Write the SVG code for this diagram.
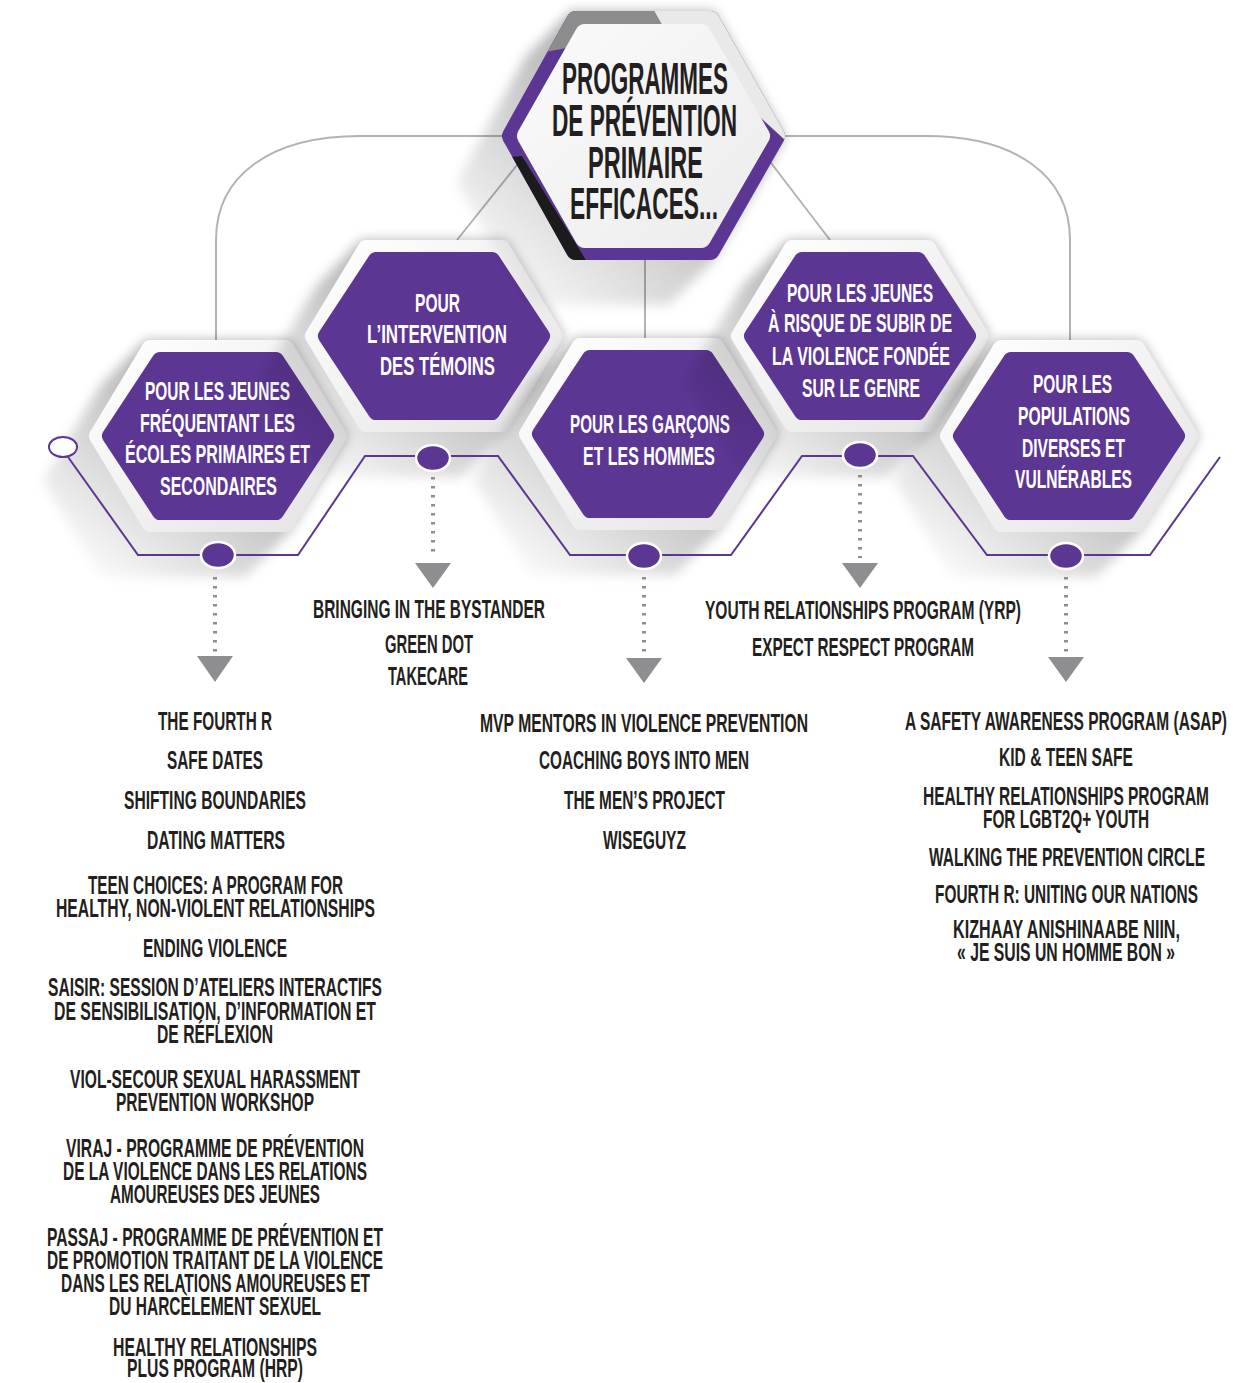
<svg xmlns="http://www.w3.org/2000/svg" width="1236" height="1383" viewBox="0 0 1236 1383">
<style>
.bg{fill:#ffffff}
.gline{fill:none;stroke:#b3b3b3;stroke-width:2}
.pline{fill:none;stroke:#5c3693;stroke-width:2;stroke-linejoin:miter}
.dot{fill:#5c3693;stroke:#ffffff;stroke-width:2.5}
.ring{fill:#ffffff;stroke:#5c3693;stroke-width:2}
.dash{fill:none;stroke:#8e8e90;stroke-width:4;stroke-dasharray:2.5 6.5}
.tri{fill:#8e8e90}
.frame{fill:url(#frameG);stroke:url(#frameG);stroke-width:16;stroke-linejoin:round}
.purp{fill:#5c3693;stroke:#5c3693;stroke-width:16;stroke-linejoin:round}
.shadow{fill:url(#shG);filter:url(#blur)}
text{font-family:"Liberation Sans",Arial,sans-serif;font-weight:bold;text-anchor:middle}
.ht{font-size:26.5px;fill:#ffffff}
.tt{font-size:44px;fill:#231f20}
.lt{font-size:25px;fill:#231f20}
</style>
<defs>
<linearGradient id="frameG" x1="0" y1="0" x2="1" y2="1">
<stop offset="0" stop-color="#ffffff"/>
<stop offset="1" stop-color="#e4e4e4"/>
</linearGradient>
<linearGradient id="innerG" x1="0" y1="0" x2="1" y2="1">
<stop offset="0" stop-color="#fafafa"/>
<stop offset="1" stop-color="#ececec"/>
</linearGradient>
<linearGradient id="shG" x1="1" y1="0" x2="0" y2="1">
<stop offset="0.35" stop-color="#000000" stop-opacity="0.30"/>
<stop offset="0.95" stop-color="#000000" stop-opacity="0"/>
</linearGradient>
<filter id="blur" x="-30%" y="-30%" width="160%" height="160%">
<feGaussianBlur stdDeviation="6"/>
</filter>
<polygon id="shadowP" points="-72,-96 72,-96 130,0 72,96 27,141 -117,141 -175,45 -117,-51"/>
<polygon id="frameP" points="-121,0 -68,-88 68,-88 121,0 68,88 -68,88"/>
<polygon id="purpP" points="-108,0 -58,-76 58,-76 108,0 58,76 -58,76"/>
<mask id="topMask" maskUnits="userSpaceOnUse" x="0" y="0" width="1236" height="400">
<polygon points="512,136 576,21 710,21 775,136 710,250 576,250" fill="#ffffff" stroke="#ffffff" stroke-width="20" stroke-linejoin="round"/>
</mask>
</defs>
<rect class="bg" x="0" y="0" width="1236" height="1383"/>

<g id="connectors-back">
<path class="gline" d="M216,342 V240 C216,176 270,136 360,136 H560"/>
<path class="gline" d="M1070,342 V240 C1070,176 1016,136 926,136 H730"/>
<line class="gline" x1="457" y1="240" x2="525" y2="155"/>
<line class="gline" x1="830" y1="240" x2="765" y2="155"/>
<line class="gline" x1="645" y1="250" x2="645" y2="342"/>
</g>

<g id="node-ecoles">
<use href="#shadowP" class="shadow" x="218" y="436"/>
<use href="#frameP" class="frame" x="218" y="436"/>
<use href="#purpP" class="purp" x="218" y="436"/>
<text class="ht" transform="translate(217.5,400) scale(0.59,1)" textLength="245.8" lengthAdjust="spacingAndGlyphs">POUR LES JEUNES</text>
<text class="ht" transform="translate(217.5,432) scale(0.59,1)" textLength="262.7" lengthAdjust="spacingAndGlyphs">FRÉQUENTANT LES</text>
<text class="ht" transform="translate(217.5,463) scale(0.59,1)" textLength="313.6" lengthAdjust="spacingAndGlyphs">ÉCOLES PRIMAIRES ET</text>
<text class="ht" transform="translate(218.5,495) scale(0.59,1)" textLength="198.3" lengthAdjust="spacingAndGlyphs">SECONDAIRES</text>
</g>

<g id="node-temoins">
<use href="#shadowP" class="shadow" x="434" y="336"/>
<use href="#frameP" class="frame" x="434" y="336"/>
<use href="#purpP" class="purp" x="434" y="336"/>
<text class="ht" transform="translate(437.5,312) scale(0.59,1)" textLength="76.3" lengthAdjust="spacingAndGlyphs">POUR</text>
<text class="ht" transform="translate(437,343) scale(0.59,1)" textLength="237.3" lengthAdjust="spacingAndGlyphs">L’INTERVENTION</text>
<text class="ht" transform="translate(437.5,375) scale(0.59,1)" textLength="194.9" lengthAdjust="spacingAndGlyphs">DES TÉMOINS</text>
</g>

<g id="node-garcons">
<use href="#shadowP" class="shadow" x="648" y="434"/>
<use href="#frameP" class="frame" x="648" y="434"/>
<use href="#purpP" class="purp" x="648" y="434"/>
<text class="ht" transform="translate(650,433) scale(0.59,1)" textLength="271.2" lengthAdjust="spacingAndGlyphs">POUR LES GARÇONS</text>
<text class="ht" transform="translate(649,465) scale(0.59,1)" textLength="223.7" lengthAdjust="spacingAndGlyphs">ET LES HOMMES</text>
</g>

<g id="node-genre">
<use href="#shadowP" class="shadow" x="860" y="336"/>
<use href="#frameP" class="frame" x="860" y="336"/>
<use href="#purpP" class="purp" x="860" y="336"/>
<text class="ht" transform="translate(860,302) scale(0.59,1)" textLength="247.5" lengthAdjust="spacingAndGlyphs">POUR LES JEUNES</text>
<text class="ht" transform="translate(860,332) scale(0.59,1)" textLength="311.9" lengthAdjust="spacingAndGlyphs">À RISQUE DE SUBIR DE</text>
<text class="ht" transform="translate(861,365) scale(0.59,1)" textLength="301.7" lengthAdjust="spacingAndGlyphs">LA VIOLENCE FONDÉE</text>
<text class="ht" transform="translate(861,397) scale(0.59,1)" textLength="200" lengthAdjust="spacingAndGlyphs">SUR LE GENRE</text>
</g>

<g id="node-populations">
<use href="#shadowP" class="shadow" x="1069" y="436"/>
<use href="#frameP" class="frame" x="1069" y="436"/>
<use href="#purpP" class="purp" x="1069" y="436"/>
<text class="ht" transform="translate(1072.5,393) scale(0.59,1)" textLength="133.9" lengthAdjust="spacingAndGlyphs">POUR LES</text>
<text class="ht" transform="translate(1074,425) scale(0.59,1)" textLength="189.8" lengthAdjust="spacingAndGlyphs">POPULATIONS</text>
<text class="ht" transform="translate(1073.5,457) scale(0.59,1)" textLength="174.6" lengthAdjust="spacingAndGlyphs">DIVERSES ET</text>
<text class="ht" transform="translate(1073.5,488) scale(0.59,1)" textLength="198.3" lengthAdjust="spacingAndGlyphs">VULNÉRABLES</text>
</g>

<g id="node-main">
<polygon class="shadow" points="571,11 714,11 785,137 714,260 669,305 526,305 457,182 526,56"/>
<polygon points="512,136 576,21 710,21 775,136 710,250 576,250" fill="#5c3693" stroke="#5c3693" stroke-width="20" stroke-linejoin="round"/>
<g mask="url(#topMask)">
<polygon points="480,0 648,0 665,30 480,64" fill="#8c8c8e"/>
<polygon points="648,0 800,0 800,137 785,140 665,30" fill="#e9e9e9"/>
<polygon points="480,160 522,156 592,270 480,270" fill="#1b1b1b"/>
</g>
<polygon points="527,136 585,34 701,34 760,136 701,238 585,238" fill="url(#innerG)" stroke="url(#innerG)" stroke-width="20" stroke-linejoin="round"/>
<text class="tt" transform="translate(645,94) scale(0.52,1)" textLength="319.2" lengthAdjust="spacingAndGlyphs">PROGRAMMES</text>
<text class="tt" transform="translate(644.5,136) scale(0.52,1)" textLength="355.8" lengthAdjust="spacingAndGlyphs">DE PRÉVENTION</text>
<text class="tt" transform="translate(645.5,178) scale(0.52,1)" textLength="221.2" lengthAdjust="spacingAndGlyphs">PRIMAIRE</text>
<text class="tt" transform="translate(644,219) scale(0.52,1)" textLength="284.6" lengthAdjust="spacingAndGlyphs">EFFICACES...</text>
</g>

<g id="connectors">
<polyline class="pline" points="68,457 138,555 298,555 365,456 498,456 570,555 731,555 802,456 913,456 987,555 1150,555 1220,457"/>
<ellipse class="ring" cx="63" cy="447" rx="14" ry="10"/>
<ellipse class="dot" cx="218" cy="555" rx="17" ry="13"/>
<ellipse class="dot" cx="433" cy="458" rx="17" ry="13"/>
<ellipse class="dot" cx="644" cy="556" rx="17" ry="13"/>
<ellipse class="dot" cx="860" cy="455" rx="17" ry="13"/>
<ellipse class="dot" cx="1066" cy="556" rx="17" ry="13"/>
<line class="dash" x1="215" y1="577" x2="215" y2="653"/>
<line class="dash" x1="433" y1="477" x2="433" y2="558"/>
<line class="dash" x1="644" y1="577" x2="644" y2="654"/>
<line class="dash" x1="860" y1="475" x2="860" y2="558"/>
<line class="dash" x1="1066" y1="577" x2="1066" y2="653"/>
<polygon class="tri" points="197,656 233,656 215,682"/>
<polygon class="tri" points="415,563 451,563 433,588"/>
<polygon class="tri" points="626,658 662,658 644,683"/>
<polygon class="tri" points="842,563 878,563 860,588"/>
<polygon class="tri" points="1048,657 1084,657 1066,682"/>
</g>

<g id="list-ecoles">
<text class="lt" transform="translate(215,730) scale(0.6,1)" textLength="190" lengthAdjust="spacingAndGlyphs">THE FOURTH R</text>
<text class="lt" transform="translate(215,769) scale(0.6,1)" textLength="160" lengthAdjust="spacingAndGlyphs">SAFE DATES</text>
<text class="lt" transform="translate(215,809) scale(0.6,1)" textLength="303.3" lengthAdjust="spacingAndGlyphs">SHIFTING BOUNDARIES</text>
<text class="lt" transform="translate(216,849) scale(0.6,1)" textLength="230" lengthAdjust="spacingAndGlyphs">DATING MATTERS</text>
<text class="lt" transform="translate(215.5,894) scale(0.6,1)" textLength="425" lengthAdjust="spacingAndGlyphs">TEEN CHOICES: A PROGRAM FOR</text>
<text class="lt" transform="translate(215.5,917) scale(0.6,1)" textLength="531.7" lengthAdjust="spacingAndGlyphs">HEALTHY, NON-VIOLENT RELATIONSHIPS</text>
<text class="lt" transform="translate(215,957) scale(0.6,1)" textLength="240" lengthAdjust="spacingAndGlyphs">ENDING VIOLENCE</text>
<text class="lt" transform="translate(215,996) scale(0.6,1)" textLength="556.7" lengthAdjust="spacingAndGlyphs">SAISIR: SESSION D’ATELIERS INTERACTIFS</text>
<text class="lt" transform="translate(215,1020) scale(0.6,1)" textLength="536.7" lengthAdjust="spacingAndGlyphs">DE SENSIBILISATION, D’INFORMATION ET</text>
<text class="lt" transform="translate(215,1043) scale(0.6,1)" textLength="193.3" lengthAdjust="spacingAndGlyphs">DE RÉFLEXION</text>
<text class="lt" transform="translate(215,1088) scale(0.6,1)" textLength="483.3" lengthAdjust="spacingAndGlyphs">VIOL-SECOUR SEXUAL HARASSMENT</text>
<text class="lt" transform="translate(215,1111) scale(0.6,1)" textLength="330" lengthAdjust="spacingAndGlyphs">PREVENTION WORKSHOP</text>
<text class="lt" transform="translate(215,1157) scale(0.6,1)" textLength="496.7" lengthAdjust="spacingAndGlyphs">VIRAJ - PROGRAMME DE PRÉVENTION</text>
<text class="lt" transform="translate(215,1180) scale(0.6,1)" textLength="506.7" lengthAdjust="spacingAndGlyphs">DE LA VIOLENCE DANS LES RELATIONS</text>
<text class="lt" transform="translate(215,1203) scale(0.6,1)" textLength="350" lengthAdjust="spacingAndGlyphs">AMOUREUSES DES JEUNES</text>
<text class="lt" transform="translate(215,1246) scale(0.6,1)" textLength="560" lengthAdjust="spacingAndGlyphs">PASSAJ - PROGRAMME DE PRÉVENTION ET</text>
<text class="lt" transform="translate(215,1269) scale(0.6,1)" textLength="560" lengthAdjust="spacingAndGlyphs">DE PROMOTION TRAITANT DE LA VIOLENCE</text>
<text class="lt" transform="translate(215.5,1292) scale(0.6,1)" textLength="515" lengthAdjust="spacingAndGlyphs">DANS LES RELATIONS AMOUREUSES ET</text>
<text class="lt" transform="translate(215,1315) scale(0.6,1)" textLength="353.3" lengthAdjust="spacingAndGlyphs">DU HARCÈLEMENT SEXUEL</text>
<text class="lt" transform="translate(215,1356) scale(0.6,1)" textLength="340" lengthAdjust="spacingAndGlyphs">HEALTHY RELATIONSHIPS</text>
<text class="lt" transform="translate(215,1377) scale(0.6,1)" textLength="293.3" lengthAdjust="spacingAndGlyphs">PLUS PROGRAM (HRP)</text>
</g>

<g id="list-temoins">
<text class="lt" transform="translate(429,618) scale(0.6,1)" textLength="386.7" lengthAdjust="spacingAndGlyphs">BRINGING IN THE BYSTANDER</text>
<text class="lt" transform="translate(429,653) scale(0.6,1)" textLength="146.7" lengthAdjust="spacingAndGlyphs">GREEN DOT</text>
<text class="lt" transform="translate(428,685) scale(0.6,1)" textLength="133.3" lengthAdjust="spacingAndGlyphs">TAKECARE</text>
</g>

<g id="list-garcons">
<text class="lt" transform="translate(644,732) scale(0.6,1)" textLength="546.7" lengthAdjust="spacingAndGlyphs">MVP MENTORS IN VIOLENCE PREVENTION</text>
<text class="lt" transform="translate(644,769) scale(0.6,1)" textLength="350" lengthAdjust="spacingAndGlyphs">COACHING BOYS INTO MEN</text>
<text class="lt" transform="translate(644.5,809) scale(0.6,1)" textLength="268.3" lengthAdjust="spacingAndGlyphs">THE MEN’S PROJECT</text>
<text class="lt" transform="translate(644.5,849) scale(0.6,1)" textLength="138.3" lengthAdjust="spacingAndGlyphs">WISEGUYZ</text>
</g>

<g id="list-genre">
<text class="lt" transform="translate(863,619) scale(0.6,1)" textLength="526.7" lengthAdjust="spacingAndGlyphs">YOUTH RELATIONSHIPS PROGRAM (YRP)</text>
<text class="lt" transform="translate(863,656) scale(0.6,1)" textLength="370" lengthAdjust="spacingAndGlyphs">EXPECT RESPECT PROGRAM</text>
</g>

<g id="list-populations">
<text class="lt" transform="translate(1066,730) scale(0.6,1)" textLength="536.7" lengthAdjust="spacingAndGlyphs">A SAFETY AWARENESS PROGRAM (ASAP)</text>
<text class="lt" transform="translate(1066,766) scale(0.6,1)" textLength="223.3" lengthAdjust="spacingAndGlyphs">KID &amp; TEEN SAFE</text>
<text class="lt" transform="translate(1066,805) scale(0.6,1)" textLength="476.7" lengthAdjust="spacingAndGlyphs">HEALTHY RELATIONSHIPS PROGRAM</text>
<text class="lt" transform="translate(1066,828) scale(0.6,1)" textLength="276.7" lengthAdjust="spacingAndGlyphs">FOR LGBT2Q+ YOUTH</text>
<text class="lt" transform="translate(1067,866) scale(0.6,1)" textLength="460" lengthAdjust="spacingAndGlyphs">WALKING THE PREVENTION CIRCLE</text>
<text class="lt" transform="translate(1066.5,903) scale(0.6,1)" textLength="438.3" lengthAdjust="spacingAndGlyphs">FOURTH R: UNITING OUR NATIONS</text>
<text class="lt" transform="translate(1066.5,938) scale(0.6,1)" textLength="378.3" lengthAdjust="spacingAndGlyphs">KIZHAAY ANISHINAABE NIIN,</text>
<text class="lt" transform="translate(1066,961) scale(0.6,1)" textLength="363.3" lengthAdjust="spacingAndGlyphs">« JE SUIS UN HOMME BON »</text>
</g>
</svg>
